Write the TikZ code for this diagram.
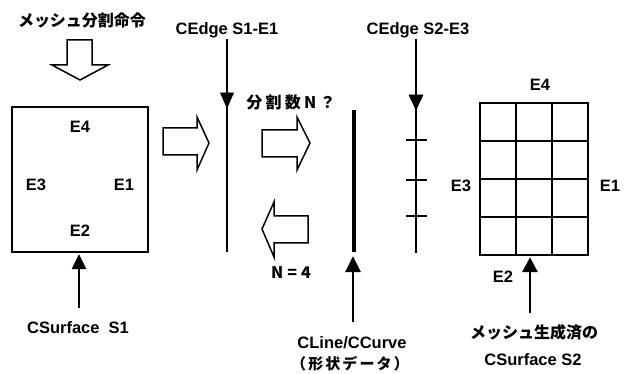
\documentclass[tikz,border=0pt]{standalone}
\usepackage{fontspec}
\setmainfont{Liberation Sans}
\newfontfamily\jp{Noto Sans CJK JP}
\tikzset{
  lbl/.style={font=\fontsize{16.5}{18}\selectfont\bfseries, inner sep=1pt},
  jlbl/.style={font=\fontsize{16}{18}\selectfont\jp\bfseries, inner sep=1pt},
  ln/.style={line width=2pt},
  thk/.style={line width=3.4pt},
  hollow/.style={draw, fill=white, line width=1.5pt, line join=miter},
  headfill/.style={fill=black, draw=black, line width=0.5pt, line join=miter},
  tickmark/.style={line width=2pt}
}
\begin{document}
\begin{tikzpicture}[x=1pt,y=-1pt]
\useasboundingbox (0,0) rectangle (630,374);

% title and hollow down arrow
\node[jlbl] (title) at (82,20) {メッシュ分割命令};
\draw[hollow] (67,40) -- (92,40) -- (92,65) -- (108,65) -- (80,80) -- (52,65) -- (67,65) -- cycle;

% surface S1
\node[draw, line width=2pt, minimum width=136pt, minimum height=145pt] (s1) at (80,180) {};
\node[lbl] (s1e4) at (80,127) {E4};
\node[lbl] (s1e3) at (36,185) {E3};
\node[lbl] (s1e1) at (124,185) {E1};
\node[lbl] (s1e2) at (80,231) {E2};
\node[lbl] (cs1) at (78,328) {CSurface\ \ S1};
\coordinate (cs1a) at (79,308);
\coordinate (cs1t) at (79,255);
\draw[ln] (cs1a) -- (79,266);
\path[headfill] (79,255) -- (72,269) -- (86,269) -- cycle;

% hollow right arrow 1
\draw[hollow] (163,128) -- (197,128) -- (197,117) -- (209,143) -- (197,170) -- (197,155) -- (163,155) -- cycle;

% CEdge S1-E1
\node[lbl] (ce1) at (227,30) {CEdge S1-E1};
\coordinate (ce1tip) at (227,108);
\coordinate (ce1bot) at (227,252);
\draw[ln] (ce1.south -| ce1bot) -- (ce1bot);
\path[headfill] (227,108) -- (220.5,93) -- (233.5,93) -- cycle;

% question and hollow arrows
\node[jlbl, font=\fontsize{16}{18}\selectfont\jp\bfseries\addfontfeature{LetterSpace=20}] (q) at (291,102) {分割数N？};
\draw[hollow] (262,130) -- (297,130) -- (297,117) -- (310,143) -- (297,170) -- (297,157) -- (262,157) -- cycle;
\draw[hollow] (308,216) -- (274,216) -- (274,202) -- (262,229) -- (274,257) -- (274,243) -- (308,243) -- cycle;
\node[jlbl, font=\fontsize{16}{18}\selectfont\jp\bfseries\addfontfeature{LetterSpace=25}] (n4) at (291,273) {N=4};

% CLine / CCurve
\coordinate (cltop) at (354,110);
\coordinate (clbot) at (354,252);
\draw[thk] (cltop) -- (clbot);
\node[lbl] (cl) at (352,343) {CLine/CCurve};
\node[jlbl, font=\fontsize{15}{17}\selectfont\jp\bfseries\addfontfeature{LetterSpace=14}] (cl2) at (350,364) {（形状データ）};
\coordinate (cla) at (353,322);
\coordinate (clt) at (353,257);
\draw[ln] (cla) -- (353,268);
\path[headfill] (353,257) -- (345.5,272) -- (360.5,272) -- cycle;

% CEdge S2-E3
\node[lbl] (ce2) at (418,30) {CEdge S2-E3};
\coordinate (ce2tip) at (416,110);
\coordinate (ce2bot) at (416,253);
\draw[ln] (ce2.south -| ce2bot) -- (ce2bot);
\path[headfill] (416,110) -- (409,95) -- (423,95) -- cycle;
\foreach \yy in {140,180,216} \draw[tickmark] (406,\yy) -- (427,\yy);

% mesh surface S2
\node[draw, line width=2pt, minimum width=108pt, minimum height=152pt] (mesh) at (534,179) {};
\foreach \xx in {516,552} \draw[ln] (\xx,103) -- (\xx,255);
\foreach \yy in {141,179,217} \draw[ln] (480,\yy) -- (588,\yy);
\node[lbl] (me4) at (540,85) {E4};
\node[lbl] (me3) at (461,186) {E3};
\node[lbl] (me1) at (610,186) {E1};
\node[lbl] (me2) at (503,277) {E2};
\node[jlbl] (cs2a) at (534,332) {メッシュ生成済の};
\node[lbl] (cs2b) at (533,360) {CSurface S2};
\coordinate (cs2arr) at (530,313);
\coordinate (cs2t) at (530,258);
\draw[ln] (cs2arr) -- (530,268);
\path[headfill] (530,258) -- (522.5,272) -- (537.5,272) -- cycle;
\end{tikzpicture}
\end{document}
